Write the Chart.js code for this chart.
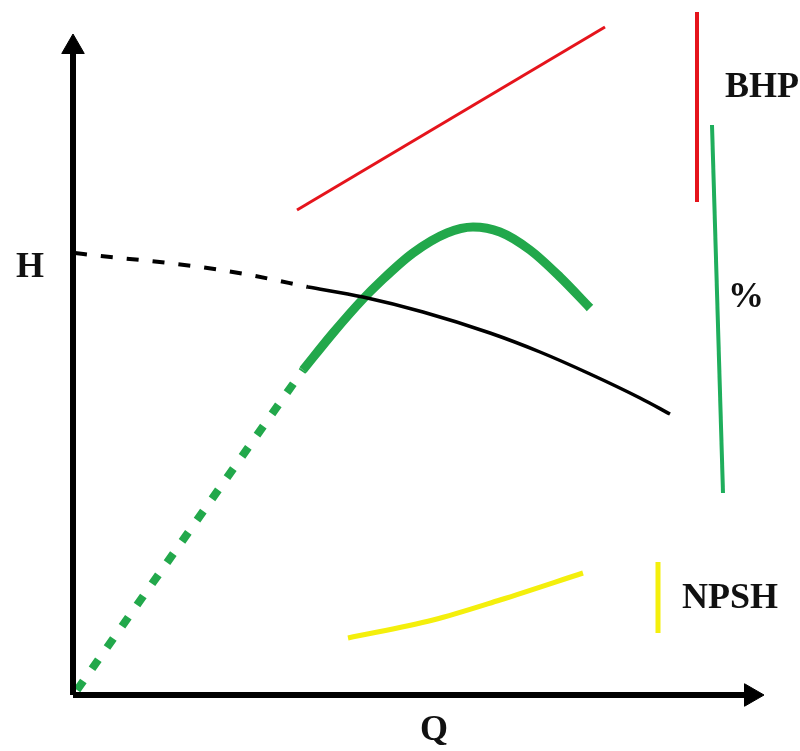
<!DOCTYPE html>
<html>
<head>
<meta charset="utf-8">
<script src="https://cdn.jsdelivr.net/npm/chart.js@4"></script>
<style>
  body { margin: 0; background: #fff; }
  #wrap { width: 800px; height: 751px; position: relative; }
</style>
</head>
<body>
<div id="wrap"><canvas id="myChart"></canvas></div>
<script>
// units: Q to the right of the origin, H above it

// head curve H(Q), dashed part then solid part
const headDashed = [[2, 442], [27, 439], [77, 434], [127, 428], [177, 420], [235, 408]];
const headSolid = [[235, 408], [290, 398], [350, 383], [417, 362], [467, 343], [517, 321], [567, 297], [597, 281]];

// efficiency curve, dashed start then solid
const effDashed = [[4, 5], [117, 165], [230, 325]];
const effSolid = [[230, 325], [260, 362], [290, 396], [307, 413], [340, 442], [374, 462], [400, 468], [427, 463], [457, 445], [487, 418], [517, 387]];

// brake horsepower
const bhp = [[224, 485], [532, 668]];

// NPSH required
const npsh = [[275, 57], [360, 75], [427, 95], [510, 122]];

// little marker lines next to the names
const bhpMark = [[624, 683], [624, 493]];
const effMark = [[639, 570], [650, 202]];
const npshMark = [[585, 133], [585, 62]];

// axes
const yAxisLine = [[0, 0], [0, 648]];
const xAxisLine = [[0, 0], [678, 0]];

// names
const labelTexts = ['H', 'Q', 'BHP', '%', 'NPSH'];
const labelX = [-57, 347, 652, 655, 609];
const labelY = [418, -45, 598, 388, 87];

const green = '#22a84b';
const red = '#e5141c';
const yellow = '#f4ef0c';

function pts(arr) {
    return arr.map(p => ({ x: p[0], y: p[1] }));
}

function line(data, color, width, dash, smooth) {
    return {
        data: pts(data),
        borderColor: color,
        borderWidth: width,
        borderDash: dash || [],
        borderCapStyle: 'butt',
        tension: smooth ? 0.4 : 0,
        cubicInterpolationMode: smooth ? 'monotone' : 'default',
        pointRadius: 0,
        showLine: true,
        fill: false
    };
}

const labelsPlugin = {
    id: 'names',
    afterDraw(chart) {
        const c = chart.ctx;
        const xs = chart.scales.x;
        const ys = chart.scales.y;
        c.save();
        c.fillStyle = '#111';
        c.font = 'bold 36px "Liberation Serif", serif';
        c.textBaseline = 'alphabetic';
        c.textAlign = 'left';
        for (let i = 0; i < labelTexts.length; i++) {
            c.fillText(labelTexts[i], xs.getPixelForValue(labelX[i]), ys.getPixelForValue(labelY[i]));
        }
        c.restore();
    }
};

var ctx = document.getElementById('myChart').getContext('2d');

var myChart = new Chart(ctx, { // eslint-disable-line
    type: 'scatter',
    data: {
        datasets: [
            line(yAxisLine, '#000', 6),
            line(xAxisLine, '#000', 6),
            {
                data: [{ x: 0, y: 648 }],
                pointStyle: 'triangle',
                pointRadius: 13,
                backgroundColor: '#000',
                borderColor: '#000',
                borderWidth: 1
            },
            {
                data: [{ x: 678, y: 0 }],
                pointStyle: 'triangle',
                pointRotation: 90,
                pointRadius: 13,
                backgroundColor: '#000',
                borderColor: '#000',
                borderWidth: 1
            },
            line(headDashed, '#000', 4, [12, 14], true),
            line(headSolid, '#000', 3.5, [], true),
            line(effDashed, green, 8, [11, 15]),
            line(effSolid, green, 9, [], true),
            line(bhp, red, 3),
            line(npsh, yellow, 5, [], true),
            line(bhpMark, red, 4),
            line(effMark, '#1fae5c', 4),
            line(npshMark, yellow, 5)
        ]
    },
    options: {
        responsive: true,
        maintainAspectRatio: false,
        animation: false,
        layout: { padding: 0, autoPadding: false },
        plugins: {
            legend: { display: false },
            tooltip: { enabled: false }
        },
        scales: {
            x: { type: 'linear', min: -73, max: 727, display: false },
            y: { type: 'linear', min: -56, max: 695, display: false }
        }
    },
    plugins: [labelsPlugin]
});
</script>
</body>
</html>
